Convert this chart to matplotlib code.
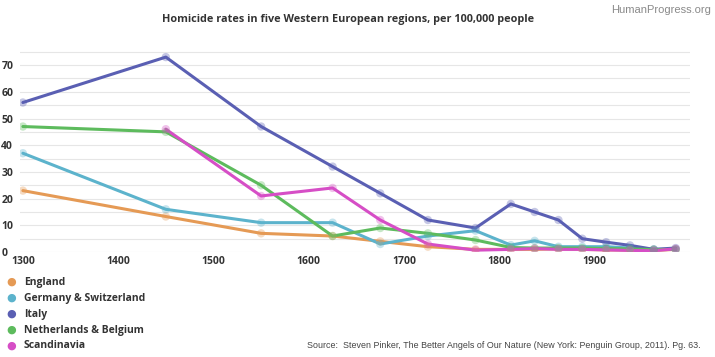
import matplotlib
matplotlib.use("Agg")
import matplotlib.pyplot as plt

years = [1300, 1450, 1550, 1625, 1675, 1725, 1775, 1812, 1837, 1862, 1887, 1912, 1937, 1962, 1985]
scand_years = years[1:]

england = [23, 13.3, 7, 6, 4, 2, 1, 1, 1, 1.2, 1, 0.8, 0.7, 0.6, 1]
germany = [37, 16, 11, 11, 3, 6, 8, 2.6, 4.2, 2, 2, 2, 1.5, 1, 1]
italy = [56, 73, 47, 32, 22, 12, 9, 18, 15, 12, 5, 3.7, 2.5, 1, 1.5]
netherlands = [47, 45, 25, 6, 9, 7, 4.5, 1.7, 1.5, 1.5, 1.5, 1.3, 1.2, 0.9, 1]
scandinavia = [46, 21, 24, 12, 3, 0.7, 1, 1.3, 1, 1, 0.8, 0.6, 0.5, 1.2]

names = ["England", "Germany & Switzerland", "Italy", "Netherlands & Belgium", "Scandinavia"]
colors = ["#e59a55", "#5cb3cc", "#5a5fb3", "#5dbb5d", "#d64ec6"]

fig = plt.figure(figsize=(7.15, 3.57), dpi=100)
ax = fig.add_axes([0.028, 0.294, 0.937, 0.576])

series = [(years, england), (years, germany), (years, italy), (years, netherlands), (scand_years, scandinavia)]
for (xs, ys), c in zip(series, colors):
    ax.plot(xs, ys, color=c, lw=2.2, zorder=3, solid_capstyle="round")
    ax.scatter(xs, ys, s=36, color=c, alpha=0.35, edgecolors="none", zorder=4)

ax.set_xlim(1297, 2000)
ax.set_ylim(0, 77)
ax.set_yticks(range(0, 80, 10))
ax.set_yticks(range(5, 80, 10), minor=True)
ax.set_xticks([1300, 1400, 1500, 1600, 1700, 1800, 1900])
ax.grid(axis="y", which="both", color="#e6e6e6", lw=0.8, zorder=0)
for s in ax.spines.values():
    s.set_visible(False)
ax.tick_params(which="both", length=0)
ax.tick_params(axis="x", pad=3)
ax.tick_params(axis="y", pad=0)
for lab in ax.get_xticklabels() + ax.get_yticklabels():
    lab.set_fontfamily("Open Sans")
    lab.set_fontweight("bold")
    lab.set_fontsize(7.5)
    lab.set_color("#333333")
for lab in ax.get_yticklabels():
    lab.set_horizontalalignment("left")
    lab.set_position((-0.028, 0))

fig.text(0.487, 0.945, "Homicide rates in five Western European regions, per 100,000 people",
         ha="center", va="center", fontsize=7.8, fontweight="bold", family="Open Sans", color="#333333")
fig.text(0.995, 0.985, "HumanProgress.org", ha="right", va="top", fontsize=8,
         family="Liberation Sans", color="#8a8a8a")

# legend at bottom left
for i, (n, c) in enumerate(zip(names, colors)):
    yy = 1 - (282 + i * 16) / 357
    fig.text(11 / 715, yy, "\u25cf", color=c, ha="center", va="center", fontsize=8, family="DejaVu Sans")
    fig.text(24 / 715, yy, n, ha="left", va="center", fontsize=7.5, fontweight="bold",
             family="Open Sans", color="#333333")

fig.text(0.98, 1 - 346 / 357,
         "Source:  Steven Pinker, The Better Angels of Our Nature (New York: Penguin Group, 2011). Pg. 63.",
         ha="right", va="center", fontsize=6.4, family=["Liberation Sans Narrow", "Liberation Sans"],
         color="#444444")

fig.savefig("out.png", dpi=100)
